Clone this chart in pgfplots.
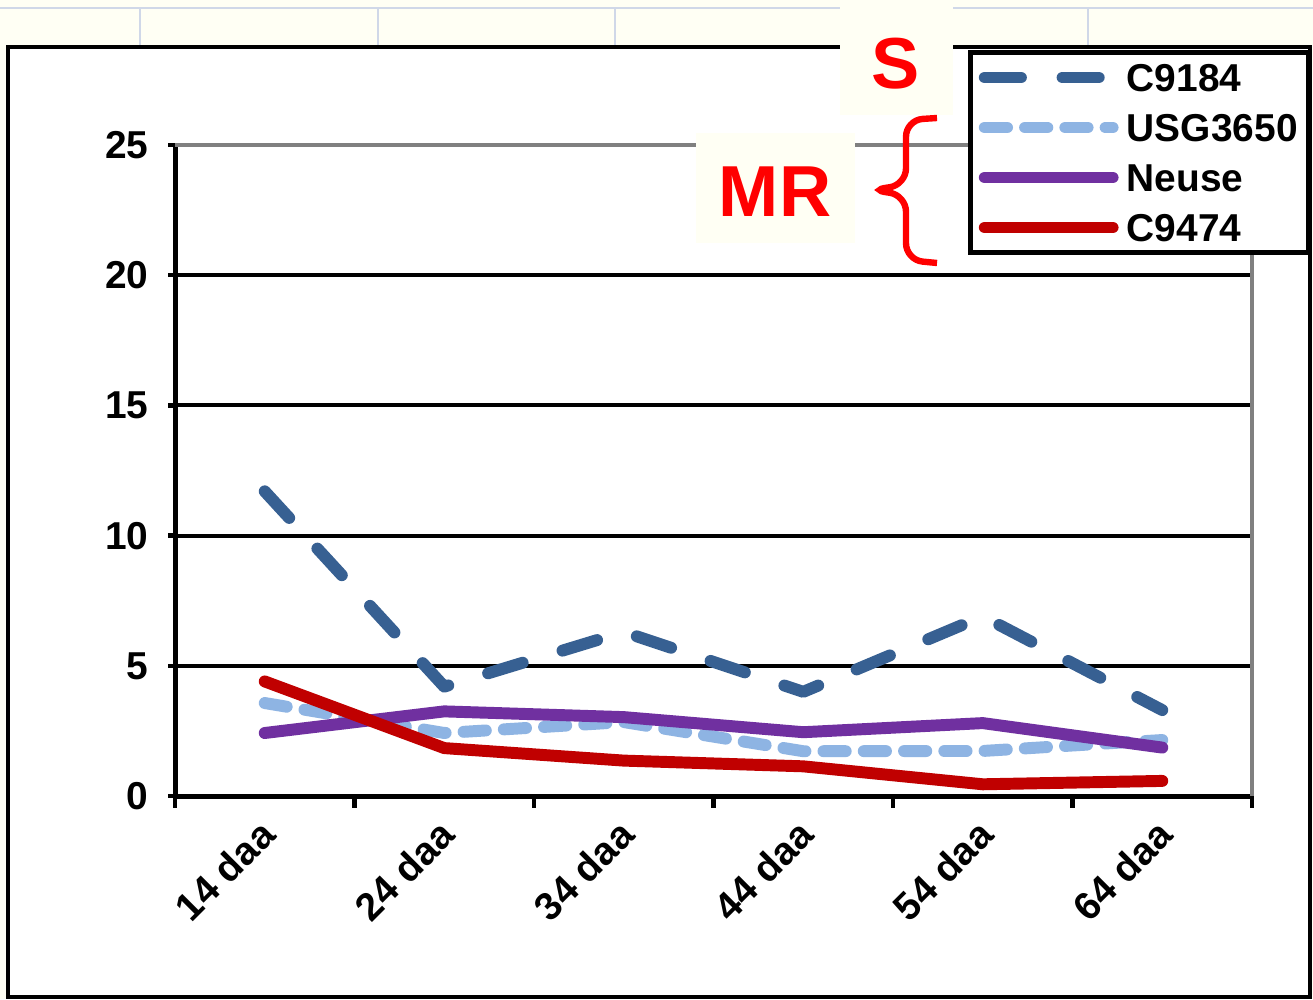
\documentclass[border=0pt]{standalone}
\usepackage{fontspec}
\setmainfont{Liberation Sans}
\usepackage{pgfplots}
\pgfplotsset{compat=1.18}
\definecolor{cA}{HTML}{376092}
\definecolor{cB}{HTML}{8EB4E3}
\definecolor{cC}{HTML}{7030A0}
\definecolor{cD}{HTML}{C00000}
\definecolor{cream}{HTML}{FFFFF4}
\definecolor{cellgrid}{HTML}{D0D8E8}
\definecolor{axgray}{HTML}{808080}
\definecolor{lblred}{HTML}{FF0000}

\begin{document}
\begin{tikzpicture}
% background, spreadsheet cells and chart frame (1 unit = 1 px)
\begin{scope}[x=0.36pt,y=0.36pt]
\fill[cream] (0,0) rectangle (1313,999);
\draw[cellgrid, line width=0.8pt] (0,991) -- (1313,991);
\foreach \gx in {140,378,615,852,1088} \draw[cellgrid, line width=0.8pt] (\gx,991) -- (\gx,952);
\draw[fill=white, line width=1.6pt] (8,952) rectangle (1310,2);
\end{scope}

\begin{axis}[
    at={(63pt,73.08pt)}, anchor=south west,
    scale only axis, width=387.72pt, height=234.36pt,
    clip=false,
    xmin=-0.5, xmax=5.5, ymin=0, ymax=25,
    xtick={0,...,5},
    xticklabels={14 daa, 24 daa, 34 daa, 44 daa, 54 daa, 64 daa},
    minor xtick={-0.5,0.5,...,5.5},
    ytick={0,5,...,25},
    axis x line*=bottom, axis y line*=left,
    axis line style={black, line width=1.8pt, -},
    tick align=outside,
    tick style={black, line width=1.6pt},
    every major x tick/.append style={draw=none},
    major tick length=2.5pt, minor tick length=4.3pt,
    ymajorgrids, grid style={black, line width=1.5pt},
    ticklabel style={font=\fontsize{14}{16}\selectfont\bfseries},
    yticklabel style={/pgf/number format/assume math mode=true, xshift=-3.5pt},
    xticklabel style={rotate=45, anchor=north east, inner sep=0pt, xshift=-5.4pt, yshift=-1.7pt},
    legend style={at={(axis description cs:0.7363,1.1459)}, anchor=north west,
      draw=black, line width=1.8pt, fill=white,
      font=\fontsize{14}{16}\selectfont\bfseries,
      inner xsep=3pt, inner ysep=3pt, row sep=6pt,
      /tikz/every odd column/.append style={column sep=2pt},
      nodes={inner sep=1pt, text height=10pt, text depth=0pt}},
    legend cell align=left,
    legend image code/.code={\draw[#1] (0pt,0pt) -- (46pt,0pt);},
    every axis plot/.append style={line width=4.3pt, line cap=round, line join=round},
]
\addplot[cA, dash pattern=on 13pt off 15pt] coordinates {(0,11.7) (1,4.2) (2,6.3) (3,4.0) (4,6.9) (5,3.3)};
\addplot[cB, dash pattern=on 8pt off 6.5pt] coordinates {(0,3.57) (1,2.42) (2,2.84) (3,1.72) (4,1.73) (5,2.15)};
\addplot[cC] coordinates {(0,2.42) (1,3.25) (2,3.03) (3,2.45) (4,2.8) (5,1.86)};
\addplot[cD] coordinates {(0,4.4) (1,1.84) (2,1.36) (3,1.14) (4,0.45) (5,0.58)};
\legend{C9184, USG3650, Neuse, C9474}
\draw[axgray, line width=1.4pt] (rel axis cs:0,1) -- (rel axis cs:1,1) -- (rel axis cs:1,0);
\end{axis}

% resistance labels
\begin{scope}[x=0.36pt,y=0.36pt]
\fill[cream] (840,884) rectangle (953,999);
\node[text=lblred, font=\fontsize{26}{30}\selectfont\bfseries] at (896,935) {S};
\fill[cream] (696,756) rectangle (855,866);
\node[text=lblred, font=\fontsize{26}{30}\selectfont\bfseries] at (775,807) {MR};
\draw[lblred, line width=2.3pt, rounded corners=6pt] (937,881) -- (906,879) -- (906,814) -- (870,809) -- (906,804) -- (906,739) -- (937,736);
\end{scope}
\pgfresetboundingbox
\path[use as bounding box] (0,0) rectangle (472.68pt,359.64pt);
\end{tikzpicture}
\end{document}
